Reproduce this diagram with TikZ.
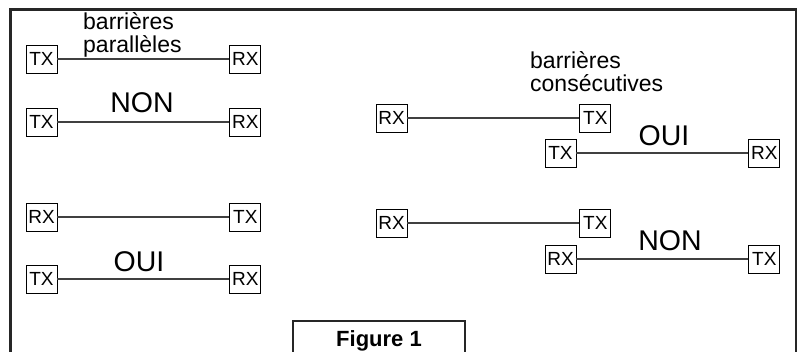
\documentclass[tikz,border=0pt]{standalone}
\usepackage{fontspec}
\setmainfont{Liberation Sans}
\usetikzlibrary{positioning}

\begin{document}
\begin{tikzpicture}[
    x=1pt, y=-1pt,
    node distance=172pt,
    unit/.style={draw, line width=0.8pt, minimum width=31pt, minimum height=28pt, inner sep=0pt, font=\fontsize{19}{20}\selectfont},
    beam/.style={line width=1.1pt, black!75},
    verdict/.style={anchor=base, inner sep=0pt, font=\fontsize{28.5}{30}\selectfont},
    caption/.style={anchor=base west, align=left, inner sep=0pt, font=\fontsize{23}{23}\selectfont}
]
    \useasboundingbox (0,0) rectangle (802,352);
    \draw[line width=2.8pt, black!85] (10.5,360) |- (796,9.5) -- (796,360);

    % barrieres paralleles
    \node[unit] (tx1) at (41.5,59) {TX};
    \node[unit, right=of tx1] (rx1) {RX};
    \node[unit] (tx2) at (41.5,122) {TX};
    \node[unit, right=of tx2] (rx2) {RX};
    \node[unit] (rx3) at (41.5,217) {RX};
    \node[unit, right=of rx3] (tx3) {TX};
    \node[unit] (tx4) at (41.5,279) {TX};
    \node[unit, right=of tx4] (rx4) {RX};

    \draw[beam] (tx1) -- (rx1);
    \draw[beam] (tx2) -- (rx2);
    \draw[beam] (rx3) -- (tx3);
    \draw[beam] (tx4) -- (rx4);

    \node[caption] (par) at (83,53) {barrières\\parallèles};
    \node[verdict] (non1) at (142,113) {NON};
    \node[verdict] (oui1) at (139,272) {OUI};

    % barrieres consecutives
    \node[unit] (rx5) at (391.5,118) {RX};
    \node[unit, right=of rx5] (tx5) {TX};
    \node[unit] (tx6) at (560.5,153) {TX};
    \node[unit, right=of tx6] (rx6) {RX};
    \node[unit] (rx7) at (391.5,223) {RX};
    \node[unit, right=of rx7] (tx7) {TX};
    \node[unit] (rx8) at (560.5,259) {RX};
    \node[unit, right=of rx8] (tx8) {TX};

    \draw[beam] (rx5) -- (tx5);
    \draw[beam] (tx6) -- (rx6);
    \draw[beam] (rx7) -- (tx7);
    \draw[beam] (rx8) -- (tx8);

    \node[caption] (cons) at (530,92) {barrières\\consécutives};
    \node[verdict] (oui2) at (664,146) {OUI};
    \node[verdict] (non2) at (670,251) {NON};

    \node[draw, line width=2pt, black!85, text=black, minimum width=172pt, minimum height=40pt,
          font=\fontsize{22}{24}\selectfont\bfseries] (fig) at (379,341) {Figure 1};
\end{tikzpicture}
\end{document}
